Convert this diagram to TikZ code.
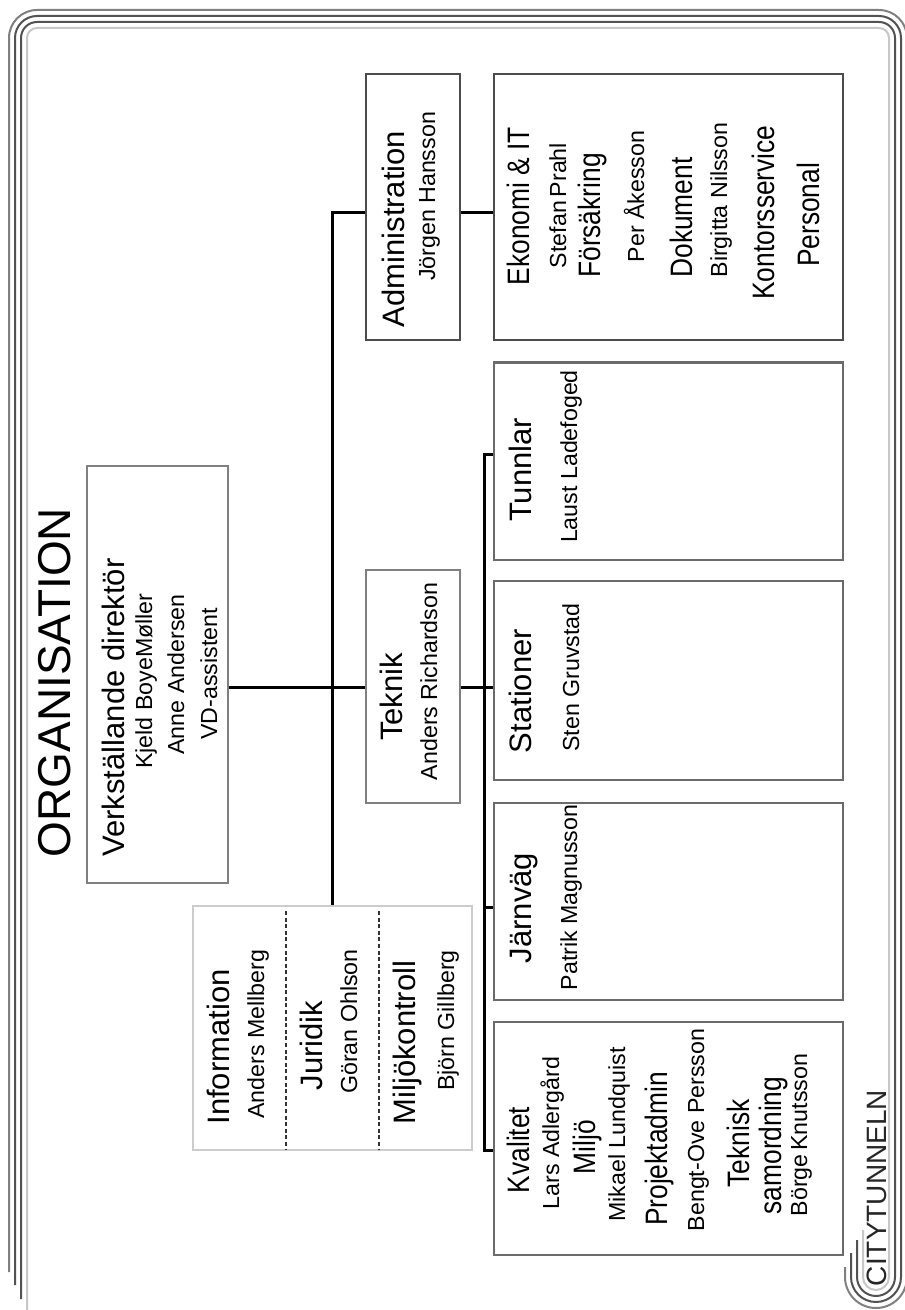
\documentclass[tikz,border=0pt]{standalone}
\usepackage{fontspec}
\setmainfont{Liberation Sans}
\newfontfamily\narrowfont{Liberation Sans}[FakeStretch=0.85]

\begin{document}
\begin{tikzpicture}[x=0.5pt, y=-0.5pt,
	frame/.style={line width=1pt},
	box/.style={draw=#1, line width=1.25pt, inner sep=0pt},
	box/.default={black!70},
	conn/.style={line width=1.5pt},
	sep/.style={line width=0.6pt, black!80, dash pattern=on 2pt off 1.3pt},
	lbl/.style={rotate=90, anchor=base, inner sep=0pt},
	big/.style={lbl, font=\fontsize{23pt}{27pt}\selectfont},
	hd/.style={lbl, font=\fontsize{15.5pt}{18pt}\selectfont},
	hdn/.style={lbl, font=\narrowfont\fontsize{15.5pt}{18pt}\selectfont},
	nm/.style={lbl, font=\fontsize{11.6pt}{14pt}\selectfont}]

	% page
	\path[use as bounding box, fill=white] (0,0) rectangle (904,1310);

	% frame
	\draw[frame, black!50, rounded corners=14pt] (9,1272)--(9,10)--(907,10)--(907,600)
		[rounded corners=15.5pt] --(907,1308)--(845,1308)--(845,1267);
	\draw[frame, black!68, rounded corners=11pt] (15,1285)--(15,16)--(901,16)--(901,600)
		[rounded corners=12.5pt] --(901,1302)--(851,1302)--(851,1253);
	\draw[frame, black!68, rounded corners=8pt] (21,1299)--(21,22)--(895,22)--(895,600)
		[rounded corners=9.5pt] --(895,1296)--(857,1296)--(857,1240);
	\draw[frame, black!22, rounded corners=5pt] (27,1312)--(27,28)--(889,28)--(889,600)
		[rounded corners=6.5pt] --(889,1290)--(863,1290)--(863,1230);

	% title
	\draw (70,682.5) node[big] (title) {ORGANISATION};
	\draw (886,1188) node[lbl, font=\fontsize{14pt}{16pt}\selectfont, black!85] (logo) {CITYTUNNELN};

	% boxes
	\draw (157.5,674.5) node[box=black!50, minimum width=70.5pt, minimum height=208.5pt] (verkst) {};
	\draw (413,207) node[box, minimum width=47pt, minimum height=133pt] (admin) {};
	\draw (668.5,207) node[box, minimum width=174.5pt, minimum height=133pt] (ekonomi) {};
	\draw (413,686.5) node[box=black!50, minimum width=47pt, minimum height=116.5pt] (teknik) {};
	\draw (332.5,1028) node[box=black!20, minimum width=139.5pt, minimum height=122pt] (info) {};
	\draw (668.5,461) node[box=black!58, minimum width=174.5pt, minimum height=98.75pt] (tunnlar) {};
	\draw (668.5,680.5) node[box=black!58, minimum width=174.5pt, minimum height=99.5pt] (stationer) {};
	\draw (668.5,901.5) node[box=black!58, minimum width=174.5pt, minimum height=98.5pt] (jarnvag) {};
	\draw (668.5,1138.5) node[box=black!58, minimum width=174.5pt, minimum height=116.5pt] (kvalitet) {};

	% info separators
	\draw[sep] (286,911)--(286,1150);
	\draw[sep] (379,911)--(379,1150);

	% connectors
	\coordinate (jA) at (332,212.5);
	\coordinate (jT) at (332,687.5);
	\draw[conn] (info.north)--(info.north |- jA)--(jA -| admin.west);
	\draw[conn] (jA -| admin.east)--(jA -| ekonomi.west);
	\draw[conn] (jT -| verkst.east)--(jT -| teknik.west);
	\draw[conn] (jT -| teknik.east)--(jT -| stationer.west);
	\coordinate (bT) at (484,454);
	\coordinate (bJ) at (484,907);
	\coordinate (bK) at (484,1150);
	\draw[conn] (bT -| tunnlar.west)--(bT)--(bK)--(bK -| kvalitet.west);
	\draw[conn] (bJ)--(bJ -| jarnvag.west);

	% verkstallande direktor
	\draw (124,707.5) node[hd] (tVd) {Verkställande direktör};
	\draw (152,681) node[nm] (nVd1) {Kjeld BoyeMøller};
	\draw (184,674.5) node[nm] (nVd2) {Anne Andersen};
	\draw (217,674) node[nm] (nVd3) {VD-assistent};

	% information, juridik, miljokontroll
	\draw (229,1047) node[hd] (tInfo) {Information};
	\draw (264,1034) node[nm] (nInfo) {Anders Mellberg};
	\draw (322,1045.5) node[hd] (tJur) {Juridik};
	\draw (357,1021.5) node[nm] (nJur) {Göran Ohlson};
	\draw (415,1042.5) node[hd] (tMil) {Miljökontroll};
	\draw (454,1020.5) node[nm] (nMil) {Björn Gillberg};

	% administration
	\draw (404,229) node[hd] (tAdm) {Administration};
	\draw (435,196.5) node[nm] (nAdm) {Jörgen Hansson};

	% teknik
	\draw (402,697) node[hd] (tTek) {Teknik};
	\draw (437,681.5) node[nm] (nTek) {Anders Richardson};

	% ekonomi
	\draw (529,206) node[hdn] (tEk1) {Ekonomi \& IT};
	\draw (566,205.5) node[nm] (nEk1) {Stefan\,Prahl};
	\draw (600,215.5) node[hdn] (tEk2) {Försäkring};
	\draw (644,196.5) node[nm] (nEk2) {Per Åkesson};
	\draw (692,217.5) node[hdn] (tEk3) {Dokument};
	\draw (727,200) node[nm] (nEk3) {Birgitta Nilsson};
	\draw (774,212.5) node[hdn] (tEk4) {Kontorsservice};
	\draw (819,215) node[hdn] (tEk5) {Personal};

	% tunnlar, stationer, jarnvag
	\draw (531,470) node[hd] (tTun) {Tunnlar};
	\draw (577,456.5) node[nm] (nTun) {Laust Ladefoged};
	\draw (531,691) node[hd] (tSta) {Stationer};
	\draw (579,677.5) node[nm] (nSta) {Sten Gruvstad};
	\draw (531,908) node[hd] (tJar) {Järnväg};
	\draw (577,897.5) node[nm] (nJar) {Patrik Magnusson};

	% kvalitet
	\draw (529,1150) node[hdn] (tKv1) {Kvalitet};
	\draw (559,1133) node[nm] (nKv1) {Lars Adlergård};
	\draw (595,1147) node[hdn] (tKv2) {Miljö};
	\draw (625,1134.5) node[nm] (nKv2) {Mikael Lundquist};
	\draw (667,1149) node[hdn] (tKv3) {Projektadmin};
	\draw (704,1130) node[nm] (nKv3) {Bengt-Ove Persson};
	\draw (749,1143.5) node[hdn] (tKv4) {Teknisk};
	\draw (781,1145.5) node[hdn] (tKv5) {samordning};
	\draw (807,1135) node[nm] (nKv4) {Börge\,Knutsson};

\end{tikzpicture}
\end{document}
